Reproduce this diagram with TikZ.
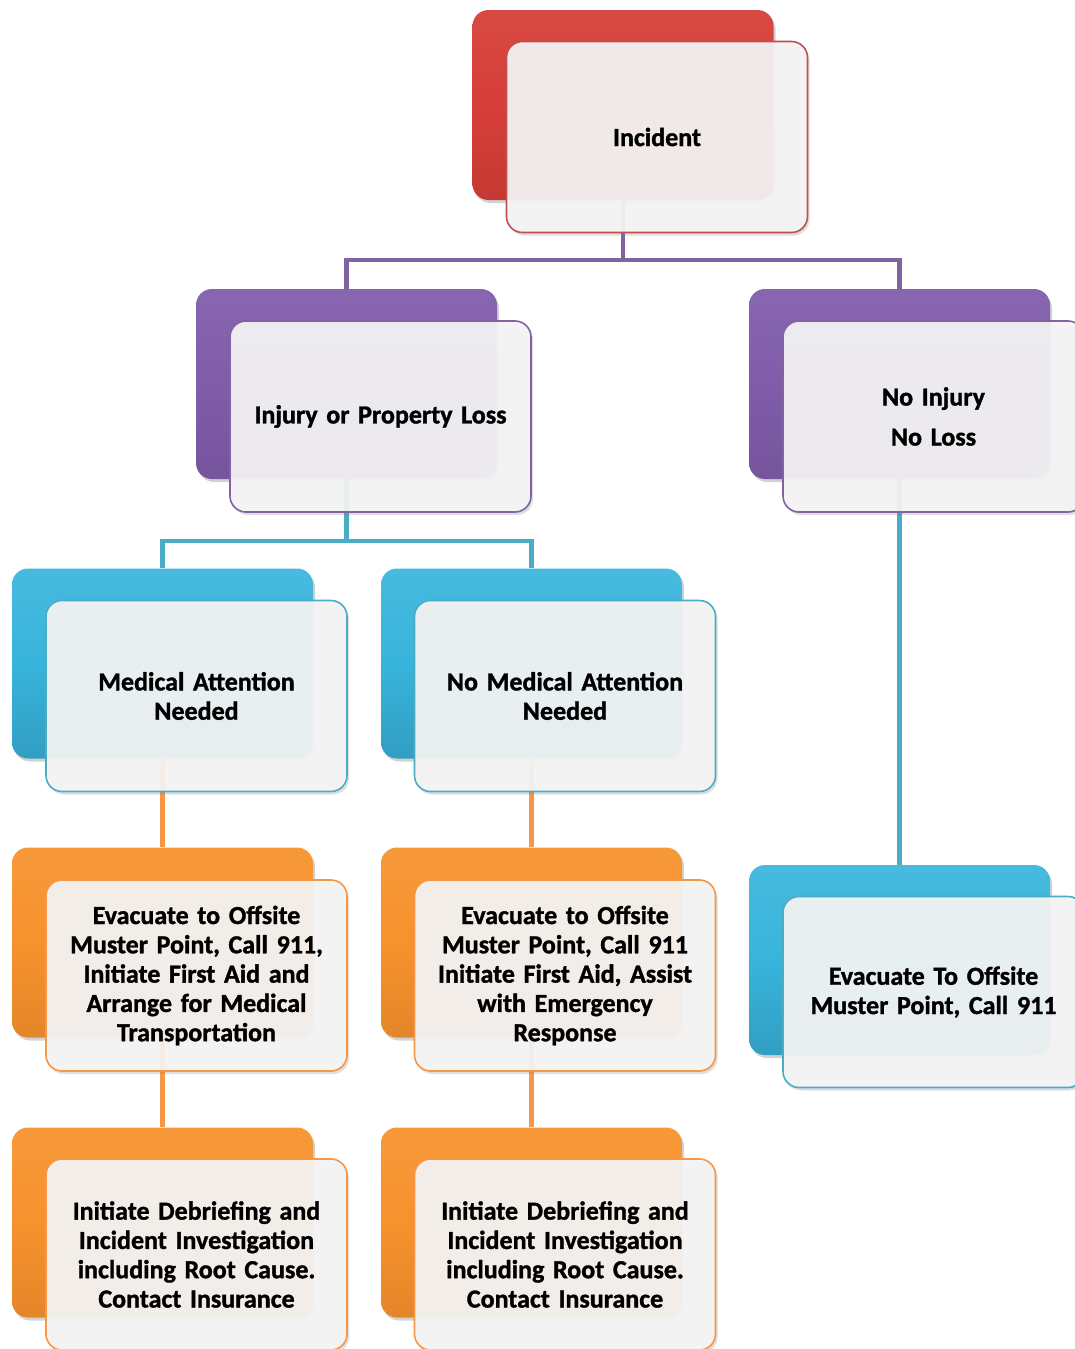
\documentclass[tikz,border=0pt]{standalone}
\usepackage{fontspec}
\setmainfont{Carlito}[BoldFeatures={FakeBold=1.3}]
\usetikzlibrary{shadows}
\definecolor{cred}{RGB}{214,62,56}
\definecolor{cpur}{RGB}{128,92,170}
\definecolor{cblu}{RGB}{56,180,220}
\definecolor{cora}{RGB}{247,146,45}
\definecolor{lred}{RGB}{192,80,77}
\definecolor{lpur}{RGB}{128,100,162}
\definecolor{lblu}{RGB}{75,172,198}
\definecolor{lora}{RGB}{247,150,70}
\pgfdeclarelayer{bg}
\pgfdeclarelayer{paper}
\pgfsetlayers{paper,bg,main}
\tikzset{
  backbox/.style={draw=none, rounded corners=16pt, minimum width=301pt, minimum height=190pt, inner sep=0pt,
    drop shadow={opacity=0.35, shadow xshift=2pt, shadow yshift=-3pt}},
  redback/.style={backbox, top color=cred!94!white, bottom color=cred!92!black, middle color=cred},
  purback/.style={backbox, top color=cpur!94!white, bottom color=cpur!92!black, middle color=cpur},
  bluback/.style={backbox, top color=cblu!92!white, bottom color=cblu!88!black, middle color=cblu},
  oraback/.style={backbox, top color=cora!94!white, bottom color=cora!92!black, middle color=cora},
  frontbox/.style={draw, line width=1.6pt, rounded corners=16pt, minimum width=301pt, minimum height=191pt,
    inner sep=0pt, fill=black!4, fill opacity=0.93, text opacity=1, align=center, text width=296pt,
    font=\bfseries\fontsize{26}{29.3}\selectfont,
    drop shadow={opacity=0.25, shadow xshift=2pt, shadow yshift=-3pt}},
  conn/.style={line width=4.5pt},
}
\begin{document}
\begin{tikzpicture}[x=1pt,y=-1pt]
\clip (0,0) rectangle (1075,1349);
\begin{pgfonlayer}{paper}
\fill[white] (0,0) rectangle (1075,1349);
\end{pgfonlayer}
% Incident
\node[redback] (incb) at (623,105) {};
\node[frontbox, draw=lred] (inc) at (657,137) {Incident};
% Level 2
\node[purback] (injb) at (346.5,384) {};
\node[frontbox, draw=lpur] (inj) at (380.5,416.5) {Injury or Property Loss};
\node[purback] (nib) at (899.5,384) {};
\node[frontbox, draw=lpur] (ni) at (933.5,416.5) {No Injury\\[10.7pt]No Loss};
% Level 3
\node[bluback] (medb) at (162.5,663.5) {};
\node[frontbox, draw=lblu] (med) at (196.5,696) {Medical Attention\\Needed};
\node[bluback] (nmb) at (531.5,663.5) {};
\node[frontbox, draw=lblu] (nm) at (565,696) {No Medical Attention\\Needed};
% Level 4
\node[oraback] (ev1b) at (162.5,942.5) {};
\node[frontbox, draw=lora] (ev1) at (196.5,975.5) {Evacuate to Offsite\\Muster Point, Call 911,\\Initiate First Aid and\\Arrange for Medical\\Transportation};
\node[oraback] (ev2b) at (531.5,942.5) {};
\node[frontbox, draw=lora] (ev2) at (565,975.5) {Evacuate to Offsite\\Muster Point, Call 911\\Initiate First Aid, Assist\\with Emergency\\Response};
\node[bluback] (ev3b) at (899.5,960) {};
\node[frontbox, draw=lblu] (ev3) at (933.5,992) {Evacuate To Offsite\\Muster Point, Call 911};
% Level 5
\node[oraback] (d1b) at (162.5,1222.5) {};
\node[frontbox, draw=lora] (d1) at (196.5,1254.5) {Initiate Debriefing and\\Incident Investigation\\including Root Cause.\\Contact Insurance};
\node[oraback] (d2b) at (531.5,1222.5) {};
\node[frontbox, draw=lora] (d2) at (565,1254.5) {Initiate Debriefing and\\Incident Investigation\\including Root Cause.\\Contact Insurance};
% connectors
\begin{pgfonlayer}{bg}
\draw[conn, lpur] (incb.south) -- ++(0,60) coordinate (pj) -| (injb.north);
\draw[conn, lpur] (pj) -| (nib.north);
\draw[conn, lblu] (injb.south) -- ++(0,62) coordinate (bj) -| (medb.north);
\draw[conn, lblu] (bj) -| (nmb.north);
\draw[conn, lblu] (nib.south) -- (ev3b.north);
\draw[conn, lora] (medb.south) -- (ev1b.north);
\draw[conn, lora] (ev1b.south) -- (d1b.north);
\draw[conn, lora] (nmb.south) -- (ev2b.north);
\draw[conn, lora] (ev2b.south) -- (d2b.north);
\end{pgfonlayer}
\end{tikzpicture}
\end{document}
